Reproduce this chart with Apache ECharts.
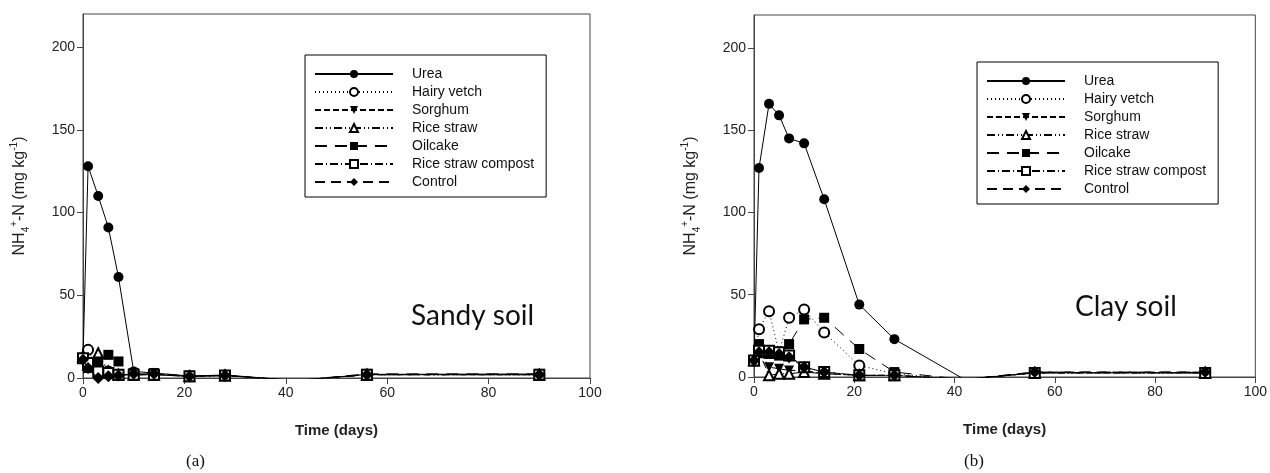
<!DOCTYPE html>
<html>
<head>
<meta charset="utf-8">
<script src="https://cdn.jsdelivr.net/npm/echarts@6/dist/echarts.min.js"></script>
<style>
  html, body { margin: 0; padding: 0; background: #fff; }
  #chart { width: 1270px; height: 473px; }
</style>
</head>
<body>
<div id="chart"></div>
<script>
// sampling days (day 42 sits just below 0, so it is clipped like in the original)
const days = [0, 1, 3, 5, 7, 10, 14, 21, 28, 42, 56, 90]

const seriesNames = ['Urea', 'Hairy vetch', 'Sorghum', 'Rice straw', 'Oilcake', 'Rice straw compost', 'Control']

// (a) sandy soil, NH4+-N mg/kg
const sandyUrea      = [12, 128, 110, 91, 61, 4, 3, 1.2, 1.8, -1.5, 2.2, 2.4]
const sandyVetch     = [12, 17, 5, 4, 2, 2, 2, 1, 1.5, -1.5, 2, 2]
const sandySorghum   = [12, 7, 9, 3, 2, 2, 2, 1, 1.5, -1.5, 2, 2]
const sandyStraw     = [13, 8, 15, 4, 2, 2, 2, 1, 1.5, -1.5, 2, 2]
const sandyOilcake   = [12, 6, 10, 14, 10, 3, 3, 1, 1.5, -1.5, 2.5, 2.5]
const sandyCompost   = [12, 9, 4, 3, 2, 2, 2, 1, 1.5, -1.5, 2, 2]
const sandyControl   = [11, 6, 0, 1, 1.5, 2.5, 2.5, 1, 1.5, -1.5, 2, 2]

// (b) clay soil
const clayUrea       = [10, 127, 166, 159, 145, 142, 108, 44, 23, -1.5, 2.6, 2.6]
const clayVetch      = [10, 29, 40, 15, 36, 41, 27, 7, 2, -1.5, 2.5, 2.5]
const claySorghum    = [10, 17, 6, 5, 4, 4, 2, 1, 1, -1.5, 2.5, 2.5]
const clayStraw      = [10, 15, 1, 2, 2, 3, 2, 1, 1, -1.5, 2.5, 2.5]
const clayOilcake    = [10, 20, 14, 13, 20, 35, 36, 17, 3, -1.5, 3, 3]
const clayCompost    = [10, 16, 16, 15, 13, 6, 3, 1, 1, -1.5, 2.5, 2.5]
const clayControl    = [10, 15, 15, 14, 12, 6, 3, 1, 1, -1.5, 3, 3]

const yTicks = [0, 50, 100, 150, 200]

const styles = [
  { symbol: 'circle', rotate: 0, dash: 'solid' },
  { symbol: 'emptyCircle', rotate: 0, dash: [1, 3] },
  { symbol: 'triangle', rotate: 180, dash: [6, 3] },
  { symbol: 'emptyTriangle', rotate: 0, dash: [8, 3, 1, 3, 1, 3] },
  { symbol: 'rect', rotate: 0, dash: [12, 8] },
  { symbol: 'emptyRect', rotate: 0, dash: [8, 3, 1, 3] },
  { symbol: 'diamond', rotate: 0, dash: [10, 6] }
]

const sandy = [sandyUrea, sandyVetch, sandySorghum, sandyStraw, sandyOilcake, sandyCompost, sandyControl]
const clay = [clayUrea, clayVetch, claySorghum, clayStraw, clayOilcake, clayCompost, clayControl]

const makeSeries = (vals, idx) => vals.map((v, i) => ({
  name: seriesNames[i],
  type: 'line',
  xAxisIndex: idx,
  yAxisIndex: idx,
  symbol: styles[i].symbol,
  symbolRotate: styles[i].rotate,
  symbolSize: styles[i].symbol === 'diamond' ? 12 : 10,
  clip: true,
  z: 2 + i,
  itemStyle: { color: '#000', borderWidth: 1 },
  lineStyle: { color: '#000', width: 1, type: styles[i].dash },
  data: days.map((d, k) => [d, v[k]])
}))

const axisCol = '#444'
const font = 'Liberation Sans, Arial, sans-serif'

const xAxisOf = (gi) => ({
  type: 'value', gridIndex: gi, min: 0, max: 100, interval: 20,
  name: 'Time (days)', nameLocation: 'middle', nameGap: 45,
  nameTextStyle: { fontSize: 15, fontWeight: 'bold', color: '#222', fontFamily: font },
  axisLine: { lineStyle: { color: axisCol } },
  axisTick: { length: 6, lineStyle: { color: axisCol } },
  axisLabel: { fontSize: 14, color: '#222', margin: 8, fontFamily: font },
  splitLine: { show: false }
})

const yAxisOf = (gi) => ({
  type: 'value', gridIndex: gi, min: 0, max: 220,
  name: '{a|NH}{sub|4}{sup|+}{a|-N (mg kg}{sup|-1}{a|)}',
  nameLocation: 'middle', nameGap: 52, nameRotate: 90,
  nameTextStyle: {
    fontFamily: font, color: '#222',
    rich: {
      a: { fontSize: 16, fontFamily: font, color: '#222', lineHeight: 22 },
      sub: { fontSize: 10, fontFamily: font, color: '#222', verticalAlign: 'bottom', lineHeight: 22 },
      sup: { fontSize: 10, fontFamily: font, color: '#222', verticalAlign: 'top', lineHeight: 22 }
    }
  },
  axisLine: { show: true, lineStyle: { color: axisCol } },
  axisTick: { length: 6, lineStyle: { color: axisCol }, customValues: yTicks },
  axisLabel: { fontSize: 14, color: '#222', margin: 8, fontFamily: font, customValues: yTicks },
  splitLine: { show: false }
})

const legendOf = (left, top) => ({
  orient: 'vertical', left: left, top: top,
  itemWidth: 78, itemHeight: 10, itemGap: 4,
  padding: [12, 12, 8, 9],
  borderColor: '#000', borderWidth: 1,
  inactiveColor: '#000',
  textStyle: { fontSize: 14, lineHeight: 14, color: '#111', fontFamily: font, padding: [0, 0, 0, 14] },
  data: seriesNames
})

const chart = echarts.init(document.getElementById('chart'), null, { renderer: 'canvas' })
chart.setOption({
  animation: false,
  backgroundColor: '#fff',
  grid: [
    { left: 83, top: 14, width: 507, height: 364, show: true, borderColor: axisCol, borderWidth: 1, backgroundColor: 'transparent' },
    { left: 754, top: 15, width: 505, height: 362, show: true, borderColor: axisCol, borderWidth: 1, backgroundColor: 'transparent' }
  ],
  xAxis: [xAxisOf(0), xAxisOf(1)],
  yAxis: [yAxisOf(0), yAxisOf(1)],
  legend: [legendOf(305, 55), legendOf(977, 62)],
  graphic: [
    { type: 'text', left: 411, top: 302, style: { text: 'Sandy soil', fontSize: 28, fontFamily: 'Lato, sans-serif', fill: '#111' } },
    { type: 'text', left: 1075, top: 293, style: { text: 'Clay soil', fontSize: 28, fontFamily: 'Lato, sans-serif', fill: '#111' } },
    { type: 'text', left: 186, top: 453, style: { text: '(a)', fontSize: 17, fontFamily: 'Liberation Serif, serif', fill: '#111' } },
    { type: 'text', left: 964, top: 453, style: { text: '(b)', fontSize: 17, fontFamily: 'Liberation Serif, serif', fill: '#111' } }
  ],
  series: [...makeSeries(sandy, 0), ...makeSeries(clay, 1)]
})
</script>
</body>
</html>
